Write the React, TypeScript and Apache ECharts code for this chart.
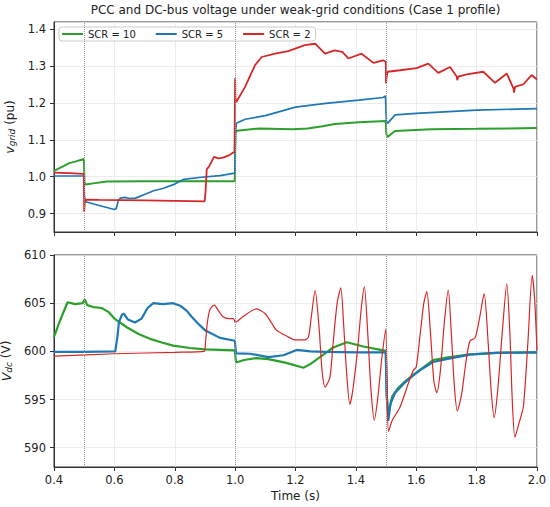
import React, { useEffect, useRef } from "react";
import * as echarts from "echarts";

// ---------- data ----------
const legendNames = ["SCR = 10", "SCR = 5", "SCR = 2"];
const seriesColors = ["#2ca02c", "#1f77b4", "#d62728"];
const eventTimes = [0.5, 1.0, 1.5];

// Top panel: PCC voltage (pu)
const tTop10 = [0.40, 0.43, 0.45, 0.47, 0.499, 0.501, 0.505, 0.53, 0.575, 0.7, 0.85, 0.999, 1.001, 1.005, 1.08, 1.19, 1.24, 1.29, 1.33, 1.41, 1.499, 1.501, 1.505, 1.52, 1.53, 1.65, 1.8, 2.0];
const vTop10 = [1.016, 1.028, 1.037, 1.041, 1.048, 0.985, 0.979, 0.982, 0.987, 0.988, 0.988, 0.988, 1.118, 1.125, 1.131, 1.129, 1.131, 1.137, 1.143, 1.148, 1.151, 1.115, 1.108, 1.118, 1.124, 1.129, 1.130, 1.132];

const tTop5 = [0.40, 0.499, 0.501, 0.505, 0.55, 0.60, 0.606, 0.613, 0.62, 0.635, 0.65, 0.67, 0.70, 0.73, 0.76, 0.80, 0.83, 0.88, 0.95, 0.999, 1.001, 1.004, 1.033, 1.10, 1.20, 1.30, 1.41, 1.49, 1.498, 1.501, 1.505, 1.53, 1.60, 1.80, 2.0];
const vTop5 = [1.002, 1.002, 0.945, 0.932, 0.922, 0.911, 0.914, 0.935, 0.942, 0.944, 0.941, 0.942, 0.952, 0.962, 0.968, 0.980, 0.993, 0.998, 1.003, 1.010, 1.120, 1.145, 1.156, 1.166, 1.189, 1.199, 1.208, 1.215, 1.219, 1.152, 1.145, 1.168, 1.172, 1.181, 1.185];

const tTop2 = [0.40, 0.45, 0.499, 0.500, 0.502, 0.505, 0.55, 0.70, 0.85, 0.899, 0.902, 0.906, 0.915, 0.93, 0.945, 0.96, 0.98, 0.998, 1.000, 1.001, 1.004, 1.033, 1.066, 1.088, 1.132, 1.176, 1.231, 1.265, 1.298, 1.33, 1.355, 1.375, 1.419, 1.458, 1.49, 1.499, 1.500, 1.502, 1.505, 1.546, 1.601, 1.64, 1.673, 1.712, 1.734, 1.736, 1.739, 1.767, 1.822, 1.861, 1.90, 1.922, 1.924, 1.927, 1.955, 1.982, 2.0];
const vTop2 = [1.011, 1.010, 1.008, 0.905, 0.930, 0.938, 0.937, 0.936, 0.934, 0.933, 0.960, 1.020, 1.030, 1.054, 1.050, 1.052, 1.058, 1.068, 1.267, 1.215, 1.203, 1.244, 1.303, 1.325, 1.334, 1.341, 1.357, 1.361, 1.334, 1.343, 1.339, 1.321, 1.334, 1.309, 1.316, 1.312, 1.253, 1.272, 1.285, 1.289, 1.295, 1.307, 1.282, 1.298, 1.272, 1.262, 1.272, 1.278, 1.285, 1.255, 1.280, 1.240, 1.228, 1.244, 1.251, 1.276, 1.264];

// Bottom panel: DC-bus voltage (V)
const tBot10 = [0.40, 0.42, 0.445, 0.47, 0.495, 0.502, 0.51, 0.53, 0.558, 0.58, 0.60, 0.641, 0.68, 0.718, 0.76, 0.795, 0.85, 0.90, 0.999, 1.003, 1.03, 1.07, 1.11, 1.17, 1.226, 1.25, 1.281, 1.325, 1.37, 1.425, 1.49, 1.499, 1.502, 1.507, 1.52, 1.54, 1.56, 1.60, 1.656, 1.70, 1.778, 1.866, 2.0];
const vBot10 = [601.5, 603.2, 605.1, 604.9, 605.0, 605.4, 604.8, 604.6, 604.5, 604.1, 603.4, 602.5, 601.8, 601.3, 600.9, 600.6, 600.35, 600.2, 600.1, 598.85, 599.1, 599.3, 599.2, 598.8, 598.3, 598.7, 599.4, 600.4, 600.95, 600.5, 600.1, 600.05, 595.5, 593.5, 595.3, 596.2, 596.8, 597.8, 599.1, 599.35, 599.7, 599.85, 599.9];

const tBot5 = [0.40, 0.50, 0.603, 0.61, 0.615, 0.625, 0.632, 0.645, 0.668, 0.69, 0.71, 0.729, 0.76, 0.795, 0.82, 0.84, 0.856, 0.88, 0.90, 0.95, 0.999, 1.003, 1.05, 1.11, 1.16, 1.204, 1.25, 1.30, 1.40, 1.499, 1.502, 1.507, 1.515, 1.53, 1.56, 1.59, 1.62, 1.656, 1.70, 1.778, 1.866, 2.0];
const vBot5 = [599.95, 599.95, 600.0, 601.5, 603.0, 603.8, 603.9, 603.3, 603.0, 603.4, 604.5, 605.0, 604.9, 605.0, 604.7, 604.2, 603.6, 602.8, 602.2, 601.4, 601.1, 599.8, 599.75, 599.4, 599.6, 600.15, 600.0, 599.95, 599.9, 599.9, 595.5, 592.8, 594.6, 595.7, 596.7, 597.5, 598.2, 598.9, 599.2, 599.66, 599.84, 599.9];

const tBot2 = [0.40, 0.60, 0.80, 0.897, 0.902, 0.908, 0.915, 0.922, 0.931, 0.945, 0.96, 0.98, 0.995, 1.0, 1.006, 1.03, 1.071, 1.10, 1.137, 1.17, 1.198, 1.231, 1.243, 1.252, 1.265, 1.278, 1.288, 1.298, 1.314, 1.325, 1.338, 1.35, 1.36, 1.37, 1.38, 1.39, 1.405, 1.418, 1.428, 1.44, 1.45, 1.461, 1.472, 1.485, 1.499, 1.503, 1.508, 1.52, 1.546, 1.575, 1.59, 1.60, 1.612, 1.625, 1.635, 1.647, 1.658, 1.668, 1.68, 1.693, 1.706, 1.716, 1.726, 1.736, 1.75, 1.765, 1.778, 1.795, 1.81, 1.825, 1.838, 1.848, 1.858, 1.87, 1.885, 1.90, 1.91, 1.918, 1.927, 1.94, 1.955, 1.97, 1.984, 1.992, 2.0];
const vBot2 = [599.5, 599.75, 599.9, 600.0, 601.0, 603.0, 604.2, 604.6, 604.8, 604.2, 603.6, 603.4, 603.4, 603.0, 603.1, 603.7, 604.4, 603.9, 602.2, 601.6, 601.2, 601.2, 601.5, 603.5, 606.3, 602.5, 598.0, 596.3, 597.3, 601.0, 605.0, 606.6, 602.5, 597.5, 594.5, 596.0, 600.0, 604.5, 606.7, 601.5, 596.0, 592.85, 595.0, 599.0, 602.3, 597.0, 591.7, 592.8, 594.2, 596.8, 598.0, 598.4, 601.5, 605.0, 606.2, 602.0, 597.0, 595.7, 598.0, 603.0, 606.35, 602.0, 596.5, 593.8, 595.5, 599.0, 601.1, 601.4, 603.5, 606.0, 601.0, 596.0, 593.1, 596.0, 602.0, 607.0, 602.0, 595.0, 591.1, 592.5, 594.3, 601.0, 607.9, 605.5, 600.1];

// ---------- helpers ----------
const zip = (t: number[], v: number[]) => t.map((x, i) => [x, v[i]]);
const FONT = "DejaVu Sans";
const AXIS_COLOR = "#333333";
const GRID_COLOR = "#e8e8e8";
const TEXT_COLOR = "#222222";
const TICK_FONT = 11.5;

const makeX = (gridIndex: number, showLabels: boolean, name?: string) => ({
  type: "value",
  gridIndex,
  min: 0.4,
  max: 2.0,
  interval: 0.2,
  name: name || "",
  nameLocation: "middle",
  nameGap: 23,
  nameTextStyle: { fontFamily: FONT, fontSize: 12, color: TEXT_COLOR },
  axisLine: { show: true, onZero: false, lineStyle: { color: AXIS_COLOR, width: 1 } },
  axisTick: { show: true, length: 4, lineStyle: { color: AXIS_COLOR, width: 1 } },
  splitLine: { show: true, lineStyle: { color: GRID_COLOR, width: 0.8 } },
  axisLabel: {
    show: showLabels,
    margin: 7,
    fontFamily: FONT,
    fontSize: TICK_FONT,
    color: TEXT_COLOR,
    formatter: (v: number) => v.toFixed(1),
  },
});

const makeY = (gridIndex: number, min: number, max: number, name: string, rich: any, fmt: (v: number) => string) => ({
  type: "value",
  gridIndex,
  min,
  max,
  splitNumber: 5,
  name,
  nameLocation: "middle",
  nameRotate: 90,
  nameGap: 31,
  nameTextStyle: { fontFamily: FONT, fontSize: 12, color: TEXT_COLOR, lineHeight: 14, rich },
  axisLine: { show: true, onZero: false, lineStyle: { color: AXIS_COLOR, width: 1 } },
  axisTick: { show: true, length: 4, lineStyle: { color: AXIS_COLOR, width: 1 } },
  splitLine: { show: true, lineStyle: { color: GRID_COLOR, width: 0.8 } },
  axisLabel: {
    margin: 8,
    fontFamily: FONT,
    fontSize: TICK_FONT,
    color: TEXT_COLOR,
    showMinLabel: false,
    showMaxLabel: max % 5 === 0,
    formatter: fmt,
  },
});

const nameRich = {
  i: { fontFamily: FONT, fontSize: 12.5, fontStyle: "italic", color: TEXT_COLOR, lineHeight: 14 },
  s: { fontFamily: FONT, fontSize: 9, fontStyle: "italic", color: TEXT_COLOR, lineHeight: 9, verticalAlign: "bottom" },
  n: { fontFamily: FONT, fontSize: 12, color: TEXT_COLOR, lineHeight: 14 },
};

const eventMarkLine = {
  silent: true,
  symbol: ["none", "none"],
  label: { show: false },
  lineStyle: { type: "dotted", color: "#9a9a9a", width: 1 },
  data: eventTimes.map((x) => ({ xAxis: x })),
};

const lineSeries = (name: string, color: string, data: number[][], idx: number, width: number, extra: any = {}) => ({
  type: "line",
  name,
  xAxisIndex: idx,
  yAxisIndex: idx,
  data,
  showSymbol: false,
  symbol: "none",
  lineStyle: { color, width },
  itemStyle: { color },
  emphasis: { disabled: true },
  ...extra,
});

const option = {
  animation: false,
  backgroundColor: "#ffffff",
  graphic: [
    {
      type: "text",
      x: 295.5,
      y: 10,
      style: {
        text: "PCC and DC-bus voltage under weak-grid conditions (Case 1 profile)",
        fontFamily: FONT,
        fontSize: 12,
        fill: TEXT_COLOR,
        textAlign: "center",
        textVerticalAlign: "middle",
      },
    },
  ],
  legend: {
    data: legendNames,
    left: 59,
    top: 27,
    orient: "horizontal",
    icon: "rect",
    itemWidth: 21,
    itemHeight: 2,
    itemGap: 20,
    padding: [2, 5, 2, 3],
    borderColor: "#cccccc",
    borderWidth: 1,
    borderRadius: 3,
    backgroundColor: "rgba(255,255,255,0.85)",
    textStyle: { fontFamily: FONT, fontSize: 10, color: TEXT_COLOR },
  },
  grid: [
    { left: 54, right: 13, top: 22, height: 210, show: true, borderColor: AXIS_COLOR, borderWidth: 1, backgroundColor: "transparent", outerBoundsMode: "none", containLabel: false },
    { left: 54, right: 13, top: 255, height: 212, show: true, borderColor: AXIS_COLOR, borderWidth: 1, backgroundColor: "transparent", outerBoundsMode: "none", containLabel: false },
  ],
  xAxis: [makeX(0, false), makeX(1, true, "Time (s)")],
  yAxis: [
    makeY(0, 0.85, 1.42, "{i|v}{s|grid}{n| (pu)}", nameRich, (v: number) => v.toFixed(1)),
    makeY(1, 588, 610, "{i|V}{s|dc}{n| (V)}", nameRich, (v: number) => String(Math.round(v))),
  ],
  series: [
    lineSeries(legendNames[0], seriesColors[0], zip(tTop10, vTop10), 0, 2, { markLine: eventMarkLine, z: 2 }),
    lineSeries(legendNames[1], seriesColors[1], zip(tTop5, vTop5), 0, 1.7, { z: 3 }),
    lineSeries(legendNames[2], seriesColors[2], zip(tTop2, vTop2), 0, 1.8, { z: 4 }),
    lineSeries(legendNames[0], seriesColors[0], zip(tBot10, vBot10), 1, 2.2, { markLine: eventMarkLine, z: 2 }),
    lineSeries(legendNames[1], seriesColors[1], zip(tBot5, vBot5), 1, 2.2, { z: 3 }),
    lineSeries(legendNames[2], seriesColors[2], zip(tBot2, vBot2), 1, 1.2, { z: 4, smooth: 0.25 }),
  ],
};

export default function App() {
  const ref = useRef<HTMLDivElement>(null);
  useEffect(() => {
    if (!ref.current) return;
    const chart = echarts.init(ref.current, null, { renderer: "svg" });
    chart.setOption(option as any);
    return () => chart.dispose();
  }, []);
  return (
    <div
      ref={ref}
      style={{ position: "absolute", left: 0, top: 0, width: 550, height: 507 }}
    />
  );
}
